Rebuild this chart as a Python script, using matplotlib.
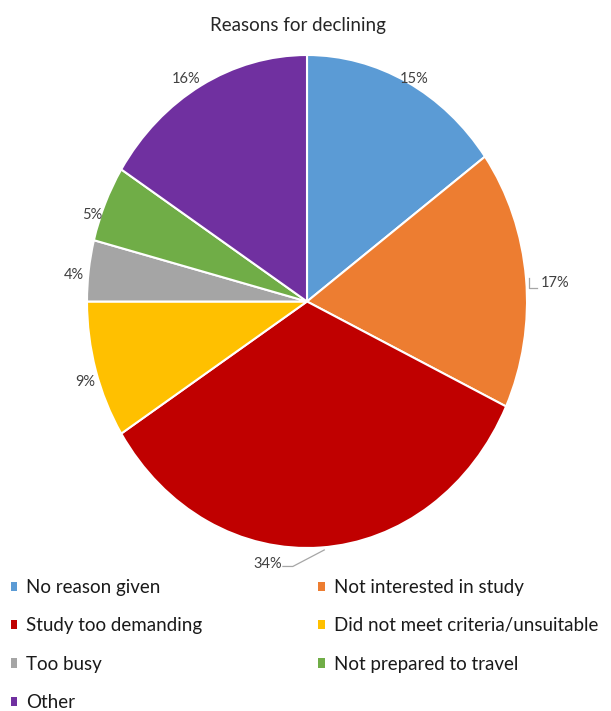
import matplotlib
matplotlib.use('Agg')
import matplotlib.pyplot as plt
import numpy as np

title = "Reasons for declining"
categories = ["No reason given", "Not interested in study", "Study too demanding",
              "Did not meet criteria/unsuitable", "Too busy", "Not prepared to travel", "Other"]
values = [15, 17, 34, 9, 4, 5, 16]
colors = ['#5B9BD5', '#ED7D31', '#C00000', '#FFC000', '#A5A5A5', '#70AD47', '#7030A0']

plt.rcParams['font.family'] = ['Lato', 'DejaVu Sans']
W, H = 611, 711
fig = plt.figure(figsize=(W / 100, H / 100), dpi=100)
ax = fig.add_axes([87 / W, (H - 548) / H, 440 / W, 493 / H])
wedges, _ = ax.pie(values, colors=colors, startangle=90, counterclock=False, radius=1,
                   wedgeprops=dict(edgecolor='white', linewidth=1.5))
ax.set_aspect('auto')
ax.set_xlim(-1, 1)
ax.set_ylim(-1, 1)
ax.axis('off')

# data labels (outside end), nudged like the spreadsheet layout
label_r = 1.06
label_dx = [0.005, 0.072, -0.244, 0.009, -0.007, -0.004, -0.039]
label_dy = [-0.041, -0.025, -0.008, -0.030, -0.025, -0.071, -0.026]
total = sum(values)
cum = np.cumsum([0] + values)
for i, v in enumerate(values):
    mid = np.deg2rad(90 - (cum[i] + v / 2) / total * 360)
    x, y = np.cos(mid), np.sin(mid)
    tx, ty = label_r * x + label_dx[i], label_r * y + label_dy[i]
    ax.text(tx, ty, f"{v}%", ha='center', va='center', fontsize=10.5, color='#404040',
            clip_on=False)
    if i == 2:
        ax.plot([x * 1.01 + 0.015, tx + 0.113, tx + 0.068], [y * 1.01, ty - 0.009, ty - 0.009],
                color='#A6A6A6', lw=0.9, clip_on=False)
    if i == 1:
        ax.plot([tx - 0.118, tx - 0.118, tx - 0.082], [ty + 0.02, ty - 0.02, ty - 0.02],
                color='#A6A6A6', lw=0.9, clip_on=False)

fig.text(298 / W, 1 - 25 / H, title, ha='center', va='center', fontsize=13.5, color='#262626')

order = [0, 2, 4, 6, 1, 3, 5]
leg = fig.legend([wedges[i] for i in order], [categories[i] for i in order],
                 ncol=2, loc='upper left', bbox_to_anchor=(10.5 / W, 1 - 579 / H),
                 frameon=False, fontsize=13.5, handlelength=0.37, handleheight=0.37,
                 handletextpad=0.45, labelspacing=1.14, columnspacing=6.2,
                 borderaxespad=0, borderpad=0)
for t in leg.get_texts():
    t.set_color('#1a1a1a')
for h in leg.legend_handles:
    h.set_edgecolor('none')

fig.savefig('out.png', dpi=100, facecolor='white')
